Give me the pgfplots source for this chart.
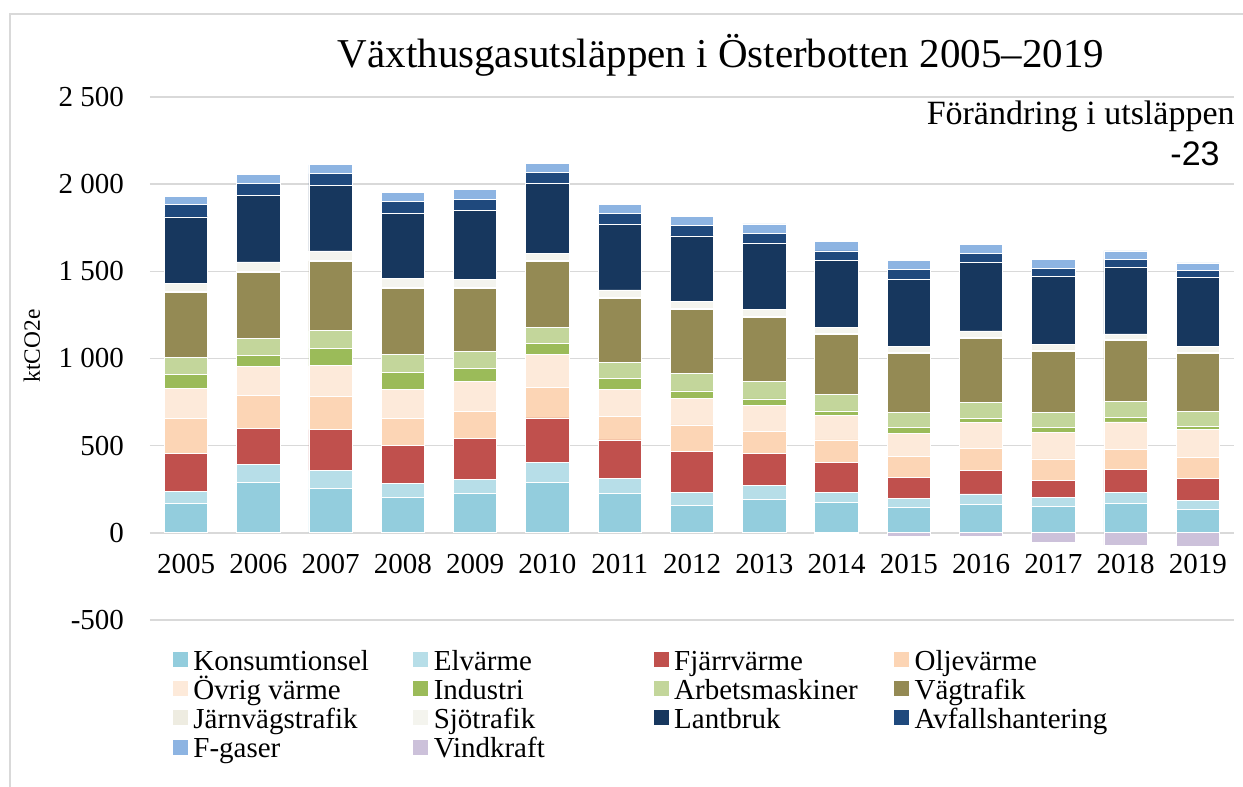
\documentclass[border=0pt]{standalone}
\usepackage{fontspec}
\setmainfont{Liberation Serif}
\newfontfamily\arialfont{Liberation Sans}
\usepackage{pgfplots}
\usepackage{pgfplotstable}
\pgfplotsset{compat=1.18}

\definecolor{ckons}{HTML}{93CDDD}
\definecolor{celv}{HTML}{B7DEE8}
\definecolor{cfjarr}{HTML}{C0504D}
\definecolor{colje}{HTML}{FCD5B5}
\definecolor{covrig}{HTML}{FDEADA}
\definecolor{cind}{HTML}{9BBB59}
\definecolor{carb}{HTML}{C3D69B}
\definecolor{cvag}{HTML}{948A54}
\definecolor{cjarn}{HTML}{EEECE1}
\definecolor{csjo}{HTML}{F4F4EE}
\definecolor{clant}{HTML}{17375E}
\definecolor{cavf}{HTML}{1F497D}
\definecolor{cfgas}{HTML}{8DB4E2}
\definecolor{cvind}{HTML}{CCC1DA}
\definecolor{gridgray}{HTML}{D9D9D9}

\pgfplotstableread{
i kons elv fjarr olje ovrig ind arb vag jarn sjo lant avf fgas
0 167 71 218 199 173 80 100 373 6 46 379 73 42
1 291 100 207 191 167 59 102 377 6 54 379 73 50
2 253 105 234 188 178 100 101 399 6 53 374 69 51
3 205 79 218 153 165 101 104 379 6 48 372 72 52
4 224 84 232 155 175 74 94 364 6 48 391 67 54
5 287 117 255 174 192 61 94 378 6 41 397 67 52
6 224 90 219 134 155 61 92 370 6 42 374 65 51
7 159 71 236 153 151 44 98 368 6 40 377 60 51
8 193 81 180 125 151 38 98 370 6 38 383 55 54
9 172 62 168 131 139 27 96 341 6 36 385 54 54
10 144 54 119 119 136 31 90 338 6 34 382 56 52
11 161 62 134 125 152 23 90 369 6 36 393 52 52
12 150 54 99 121 152 29 86 352 6 34 386 46 52
13 169 61 131 115 160 28 91 347 6 33 382 46 48
14 136 52 125 117 161 18 86 332 6 36 396 38 45
}\data

\pgfplotstableread{
i vind
9 -6
10 -23
11 -19
12 -54
13 -71
14 -75
}\vinddata

\pgfplotsset{
  sq/.style={legend image code/.code={\fill[##1,draw=none] (0pt,-4pt) rectangle (7.5pt,3.5pt); \path (10pt,0pt);}},
  seg/.style={fill=#1, draw=white, line width=0.4pt, sq},
}
\newcommand\lgd[1]{\makebox[110pt][l]{\rule[-2.25pt]{0pt}{14.5pt}\smash{#1}}}

\begin{document}
\begin{tikzpicture}
\useasboundingbox (0,0) rectangle (621.5pt,393.5pt);
\draw[gridgray, line width=0.6pt] (5pt,-2pt) -- (5pt,386.5pt) -- (625pt,386.5pt);
\node[anchor=base, inner sep=0pt, font=\fontsize{20.5}{24}\selectfont] at (360.5pt,359.5pt) {Växthusgasutsläppen i Österbotten 2005–2019};
\node[anchor=base east, inner sep=0pt, font=\fontsize{17}{20}\selectfont] at (617.5pt,331pt) {Förändring i utsläppen};
\node[anchor=base east, inner sep=0pt, font=\fontsize{17}{20}\selectfont\arialfont] at (610pt,310.5pt) {-23};

\begin{axis}[
  at={(75pt,83.5pt)}, anchor=south west,
  scale only axis, width=542pt, height=261.5pt,
  xmin=-0.5, xmax=14.5, ymin=-500, ymax=2500,
  ybar stacked, bar width=21.67pt,
  axis line style={draw=none},
  major tick length=0pt,
  tick style={draw=none},
  ymajorgrids, grid style={draw=gridgray, line width=0.75pt},
  xtick={0,...,14},
  xticklabels={2005,2006,2007,2008,2009,2010,2011,2012,2013,2014,2015,2016,2017,2018,2019},
  ytick={-500,0,500,1000,1500,2000,2500},
  yticklabels={-500,0,500,1~000,1~500,2~000,2~500},
  xticklabel style={anchor=base, inner sep=0pt, yshift=23pt, font=\fontsize{14.5}{17}\selectfont},
  yticklabel style={anchor=east, inner sep=0pt, xshift=-12.8pt, font=\fontsize{14.5}{17}\selectfont},
  ylabel={ktCO2e},
  every axis y label/.style={at={(axis description cs:-0.1089,0.524)}, rotate=90, anchor=center, inner sep=0pt, font=\fontsize{11.7}{14}\selectfont},
  legend columns=4,
  legend cell align=left,
  legend style={at={(axis description cs:0.02122,-0.04876)}, anchor=north west,
    draw=none, fill=none, inner sep=0pt, outer sep=0pt, row sep=0.8pt, column sep=0pt,
    nodes={inner sep=0pt}, font=\fontsize{14.5}{17}\selectfont},
]
\addplot[seg=ckons] table[x=i,y=kons]{\data}; \addlegendentry{\lgd{Konsumtionsel}}
\addplot[seg=celv] table[x=i,y=elv]{\data}; \addlegendentry{\lgd{Elvärme}}
\addplot[seg=cfjarr] table[x=i,y=fjarr]{\data}; \addlegendentry{\lgd{Fjärrvärme}}
\addplot[seg=colje] table[x=i,y=olje]{\data}; \addlegendentry{\lgd{Oljevärme}}
\addplot[seg=covrig] table[x=i,y=ovrig]{\data}; \addlegendentry{\lgd{Övrig värme}}
\addplot[seg=cind] table[x=i,y=ind]{\data}; \addlegendentry{\lgd{Industri}}
\addplot[seg=carb] table[x=i,y=arb]{\data}; \addlegendentry{\lgd{Arbetsmaskiner}}
\addplot[seg=cvag] table[x=i,y=vag]{\data}; \addlegendentry{\lgd{Vägtrafik}}
\addplot[seg=cjarn] table[x=i,y=jarn]{\data}; \addlegendentry{\lgd{Järnvägstrafik}}
\addplot[seg=csjo] table[x=i,y=sjo]{\data}; \addlegendentry{\lgd{Sjötrafik}}
\addplot[seg=clant] table[x=i,y=lant]{\data}; \addlegendentry{\lgd{Lantbruk}}
\addplot[seg=cavf] table[x=i,y=avf]{\data}; \addlegendentry{\lgd{Avfallshantering}}
\addplot[seg=cfgas] table[x=i,y=fgas]{\data}; \addlegendentry{\lgd{F-gaser}}
\addlegendimage{fill=cvind, sq}\addlegendentry{\lgd{Vindkraft}}
\end{axis}

\begin{axis}[
  at={(75pt,83.5pt)}, anchor=south west,
  scale only axis, width=542pt, height=261.5pt,
  xmin=-0.5, xmax=14.5, ymin=-500, ymax=2500,
  hide axis, ybar, bar width=21.67pt,
]
\addplot[fill=cvind, draw=white, line width=0.4pt] table[x=i,y=vind]{\vinddata};
\end{axis}
\end{tikzpicture}
\end{document}
